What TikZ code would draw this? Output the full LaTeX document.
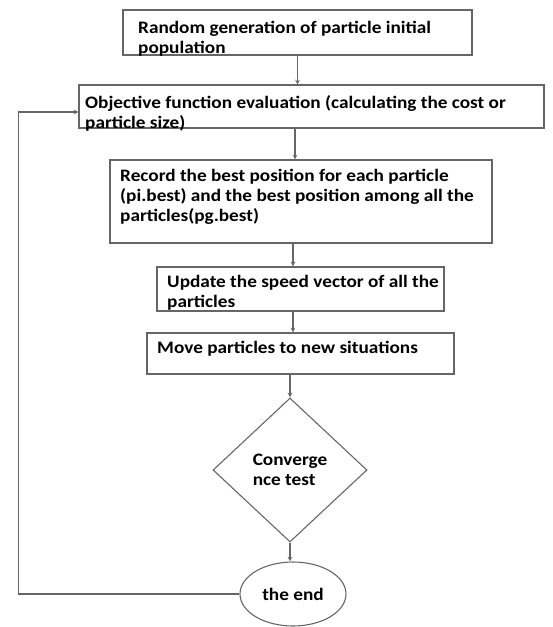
\documentclass[tikz,border=0pt]{standalone}
\usepackage{fontspec}
\setmainfont{Carlito}
\newfontfamily\flowfont{Carlito}[FakeStretch=1.1]
\usetikzlibrary{shapes,arrows,positioning}

\tikzset{
  procbox/.style={draw=black!60,line width=1.1pt,rectangle,inner sep=0pt},
  boxtext/.style={anchor=north west,inner sep=0pt,align=left,font=\flowfont\bfseries\fontsize{17.5}{20}\selectfont},
  flow/.style={draw=black!60,line width=1.1pt,-stealth},
}

\begin{document}
\begin{tikzpicture}[x=1pt,y=-1pt]
\useasboundingbox (0,0) rectangle (553,627);

% process boxes
\node[procbox,minimum width=349pt,minimum height=45pt] (init) at (297.5,32.5) {};
\node[procbox,minimum width=465pt,minimum height=43pt] (eval) at (311.5,106.5) {};
\node[procbox,minimum width=382pt,minimum height=83pt] (rec) at (301,201.5) {};
\node[procbox,minimum width=287pt,minimum height=44pt] (upd) at (300.5,289) {};
\node[procbox,minimum width=307pt,minimum height=41pt] (move) at (300.5,353.5) {};
\node[procbox,shape=diamond,minimum width=154pt,minimum height=144pt,align=left,
      font=\flowfont\bfseries\fontsize{17.5}{20}\selectfont] (conv) at (290,470) {Converge\\nce test};
\node[procbox,shape=ellipse,minimum width=106pt,minimum height=64pt,
      font=\flowfont\bfseries\fontsize{17.5}{20}\selectfont] (fin) at (293,594) {the end};

% box texts
\node[boxtext] (initT) at (138,20.5) {Random generation of particle initial\\population};
\node[boxtext] (evalT) at (85,95.5) {Objective function evaluation (calculating the cost or\\particle size)};
\node[boxtext] (recT) at (120,168.5) {Record the best position for each particle\\(pi.best) and the best position among all the\\particles(pg.best)};
\node[boxtext] (updT) at (167,275.5) {Update the speed vector of all the\\particles};
\node[boxtext] (moveT) at (157,340.5) {Move particles to new situations};

% connectors
\draw[flow] (init.south) -- (init.south |- eval.north);
\draw[flow] ([xshift=5pt]conv.north |- eval.south) -- ([xshift=5pt]conv.north |- rec.north);
\draw[flow] ([xshift=3pt]conv.north |- rec.south) -- ([xshift=3pt]conv.north |- upd.north);
\draw[flow] ([xshift=3pt]conv.north |- upd.south) -- ([xshift=3pt]conv.north |- move.north);
\draw[flow] (conv.north |- move.south) -- (conv.north);
\draw[flow] (conv.south) -- (conv.south |- fin.north);
\draw[flow] (fin.west) -- ++(-221,0) |- ([yshift=-5.5pt]eval.west);
\end{tikzpicture}
\end{document}
